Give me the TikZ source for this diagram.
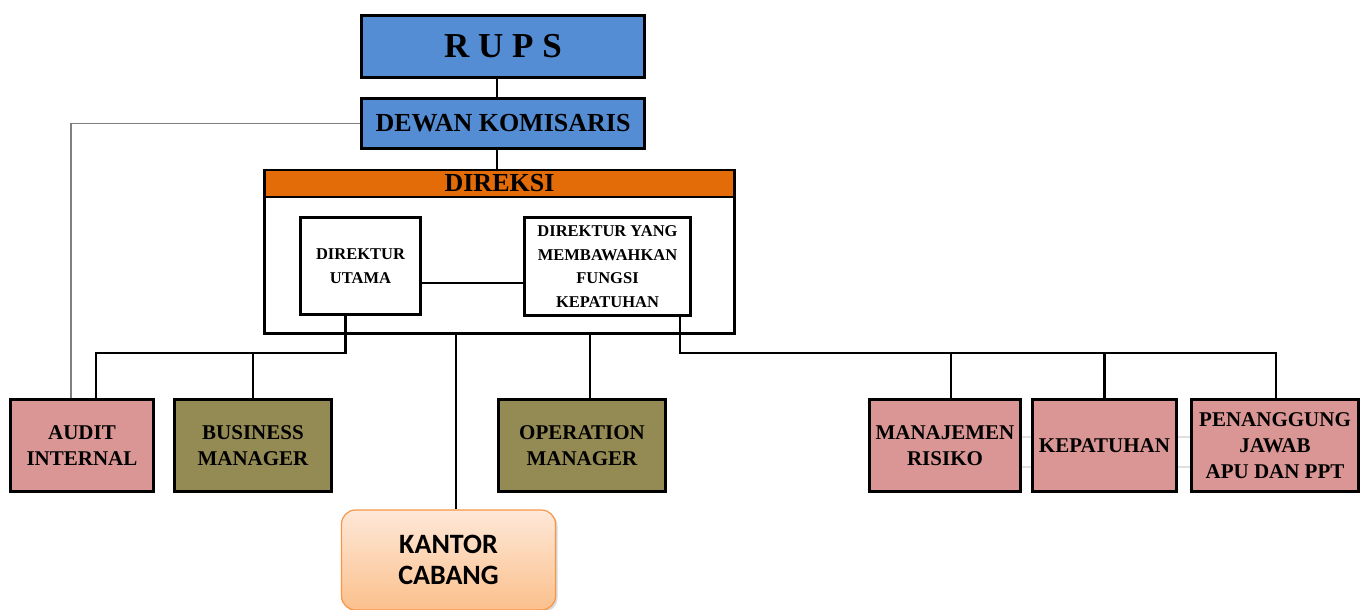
\documentclass[tikz,border=0pt]{standalone}
\usepackage{fontspec}
\setmainfont{Liberation Serif}
\newfontfamily\kalibri{Carlito}
\usetikzlibrary{shadows}

\definecolor{biruAtas}{HTML}{548DD4}
\definecolor{oranyeDireksi}{HTML}{E36C09}
\definecolor{merahMuda}{HTML}{D99694}
\definecolor{zaitun}{HTML}{948A54}
\definecolor{peachAtas}{HTML}{FEE8D8}
\definecolor{peachBawah}{HTML}{FBC08C}
\definecolor{oranyeTepi}{HTML}{F79646}

\begin{document}
\begin{tikzpicture}[x=1pt,y=-1pt,
  kotak/.style={draw=black,line width=3pt,inner sep=0pt,align=center,
    font=\bfseries\fontsize{21}{26}\selectfont},
  garis/.style={line width=2.6pt}]
  \useasboundingbox (0,0) rectangle (1368,610);

  % atas
  \node[kotak,fill=biruAtas,minimum width=283pt,minimum height=62pt,
    font=\bfseries\fontsize{35}{40}\selectfont] (rups) at (503,46.5) {R U P S};
  \node[kotak,fill=biruAtas,minimum width=283pt,minimum height=50pt,
    font=\bfseries\fontsize{26}{30}\selectfont] (dewan) at (503,123.5) {DEWAN KOMISARIS};

  % direksi
  \node[draw,line width=2.6pt,minimum width=470pt,minimum height=163pt,inner sep=0pt] (direksi) at (499.5,252) {};
  \node[draw,line width=2.6pt,fill=oranyeDireksi,minimum width=470pt,minimum height=27pt,inner sep=0pt,
    font=\bfseries\fontsize{26}{30}\selectfont] (judulDireksi) at (499.5,183.5) {DIREKSI};
  \node[kotak,fill=white,minimum width=120pt,minimum height=97pt,
    font=\bfseries\fontsize{16.5}{23.5}\selectfont] (dirut) at (360.5,266) {DIREKTUR\\UTAMA};
  \node[kotak,fill=white,minimum width=166pt,minimum height=98pt,
    font=\bfseries\fontsize{16.5}{23.5}\selectfont] (dirkep) at (607.5,266.5)
    {DIREKTUR YANG\\MEMBAWAHKAN\\FUNGSI\\KEPATUHAN};

  % baris bawah
  \node[kotak,fill=merahMuda,minimum width=143pt,minimum height=92pt] (audit) at (82,445.5) {AUDIT\\INTERNAL};
  \node[kotak,fill=zaitun,minimum width=157pt,minimum height=92pt] (bisnis) at (253,445.5) {BUSINESS\\MANAGER};
  \node[kotak,fill=zaitun,minimum width=167pt,minimum height=92pt] (operasi) at (582,445.5) {OPERATION\\MANAGER};
  \node[kotak,fill=merahMuda,minimum width=151pt,minimum height=92pt] (risiko) at (945,445.5) {MANAJEMEN\\RISIKO};
  \node[kotak,fill=merahMuda,minimum width=144pt,minimum height=92pt] (patuh) at (1104.5,445.5) {KEPATUHAN};
  \node[kotak,fill=merahMuda,minimum width=167pt,minimum height=92pt] (apu) at (1275,445.5)
    {PENANGGUNG\\JAWAB\\APU DAN PPT};

  \node[draw=oranyeTepi,line width=1.2pt,rounded corners=14pt,top color=peachAtas,bottom color=peachBawah,
    minimum width=214pt,minimum height=100pt,inner sep=0pt,align=center,
    drop shadow={opacity=0.3,shadow xshift=2pt,shadow yshift=-2pt},
    font=\kalibri\bfseries\fontsize{28}{31.5}\selectfont] (kantor) at (448.5,560) {KANTOR\\CABANG};

  % garis
  \draw[garis] ([xshift=-6pt]rups.south) -- ([xshift=-6pt]dewan.north);
  \draw[garis] ([xshift=-6pt]dewan.south) -- ([xshift=-6pt]dewan.south |- judulDireksi.north);
  \draw[garis] ([yshift=-17pt]dirut.east) -- ([yshift=-17pt]dirut.east -| dirkep.west);
  \draw[line width=1.8pt,black!50] (dewan.west) -| ([xshift=-11pt]audit.north);
  \draw[garis] ([xshift=-15pt]dirut.south) -- ++(0,37) -| ([xshift=14pt]audit.north);
  \draw[garis] (bisnis.north) -- ++(0,-45);
  \draw[garis] ([xshift=7.5pt]kantor.north) -- ([xshift=7.5pt]kantor.north |- direksi.south);
  \draw[garis] ([xshift=8pt]operasi.north) -- ([xshift=8pt]operasi.north |- direksi.south);
  \draw[garis] ([xshift=72.5pt]dirkep.south) -- ++(0,36) -| ([xshift=1pt]apu.north);
  \draw[garis] ([xshift=6pt]risiko.north) -- ++(0,-45);
  \draw[garis] (patuh.north) -- ++(0,-45);
  \draw[line width=1.5pt,gray!25] ([yshift=8.5pt]risiko.east) -- ([yshift=8.5pt]patuh.west);
  \draw[line width=1.5pt,gray!25] ([yshift=-21.5pt]risiko.east) -- ([yshift=-21.5pt]patuh.west);
  \draw[line width=1.5pt,gray!25] ([yshift=8.5pt]patuh.east) -- ([yshift=8.5pt]apu.west);
  \draw[line width=1.5pt,gray!25] ([yshift=-21.5pt]patuh.east) -- ([yshift=-21.5pt]apu.west);
\end{tikzpicture}
\end{document}
